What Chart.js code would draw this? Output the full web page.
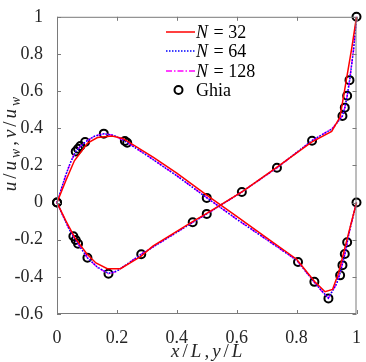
<!DOCTYPE html>
<html>
<head>
<meta charset="utf-8">
<script src="https://cdn.jsdelivr.net/npm/chart.js@4.4.1/dist/chart.umd.min.js"></script>
<style>
  html, body { margin: 0; padding: 0; background: #fff; }
  #wrap { width: 366px; height: 362px; }
</style>
</head>
<body>
<div id="wrap"><canvas id="c"></canvas></div>
<script>
// Ghia et al. reference points (Re = 1000)
const ghiaUy = [0, 0.0547, 0.0625, 0.0703, 0.1016, 0.1719, 0.2813, 0.4531, 0.5, 0.6172, 0.7344, 0.8516, 0.9531, 0.9609, 0.9688, 0.9766, 1];
const ghiaU  = [0, -0.181, -0.202, -0.222, -0.297, -0.383, -0.278, -0.106, -0.061, 0.057, 0.187, 0.333, 0.466, 0.511, 0.575, 0.659, 1];
const ghiaVx = [0, 0.0625, 0.0703, 0.0781, 0.0938, 0.1563, 0.2266, 0.2344, 0.5, 0.8047, 0.8594, 0.9063, 0.9453, 0.9531, 0.9609, 0.9688, 1];
const ghiaV  = [0, 0.275, 0.290, 0.304, 0.326, 0.371, 0.331, 0.322, 0.025, -0.320, -0.427, -0.516, -0.392, -0.337, -0.277, -0.214, 0];

// N = 32
const n32Uy = [0, 0.03, 0.06, 0.1, 0.13, 0.168, 0.212, 0.28, 0.32, 0.45, 0.5, 0.62, 0.73, 0.85, 0.917, 0.945, 0.984, 1];
const n32U  = [0, -0.10, -0.19, -0.277, -0.325, -0.356, -0.356, -0.29, -0.235, -0.105, -0.058, 0.06, 0.185, 0.325, 0.383, 0.46, 0.83, 1];
const n32Vx = [0, 0.03, 0.058, 0.102, 0.135, 0.184, 0.22, 0.322, 0.4, 0.5, 0.6, 0.7, 0.8, 0.86, 0.895, 0.92, 0.94, 0.967, 1];
const n32V  = [0, 0.12, 0.225, 0.32, 0.35, 0.358, 0.345, 0.243, 0.158, 0.04, -0.075, -0.19, -0.305, -0.425, -0.48, -0.468, -0.38, -0.206, 0];

// N = 64
const n64Uy = [0, 0.02, 0.04, 0.0547, 0.0703, 0.1016, 0.135, 0.172, 0.2, 0.2813, 0.4531, 0.5, 0.6172, 0.7344, 0.8516, 0.92, 0.953, 0.961, 0.969, 0.977, 0.99, 1];
const n64U  = [0, -0.072, -0.142, -0.182, -0.223, -0.297, -0.348, -0.381, -0.369, -0.279, -0.107, -0.061, 0.057, 0.188, 0.334, 0.398, 0.466, 0.511, 0.574, 0.658, 0.82, 1];
const n64Vx = [0, 0.015, 0.03, 0.045, 0.0625, 0.078, 0.094, 0.125, 0.156, 0.19, 0.227, 0.3, 0.4, 0.5, 0.6, 0.7, 0.8, 0.86, 0.88, 0.906, 0.934, 0.945, 0.961, 0.977, 1];
const n64V  = [0, 0.076, 0.152, 0.216, 0.274, 0.302, 0.325, 0.357, 0.370, 0.361, 0.331, 0.254, 0.144, 0.026, -0.089, -0.199, -0.31, -0.43, -0.468, -0.514, -0.436, -0.38, -0.277, -0.15, 0];

// N = 128
const n128Uy = [0, 0.02, 0.04, 0.0547, 0.0703, 0.1016, 0.135, 0.172, 0.2, 0.2813, 0.4531, 0.5, 0.6172, 0.7344, 0.8516, 0.92, 0.953, 0.961, 0.969, 0.977, 0.99, 1];
const n128U  = [0, -0.07, -0.14, -0.181, -0.222, -0.297, -0.35, -0.383, -0.37, -0.278, -0.106, -0.061, 0.057, 0.187, 0.333, 0.40, 0.466, 0.511, 0.575, 0.659, 0.82, 1];
const n128Vx = [0, 0.015, 0.03, 0.045, 0.0625, 0.078, 0.094, 0.125, 0.156, 0.19, 0.227, 0.3, 0.4, 0.5, 0.6, 0.7, 0.8, 0.86, 0.88, 0.906, 0.934, 0.945, 0.961, 0.977, 1];
const n128V  = [0, 0.075, 0.15, 0.215, 0.275, 0.303, 0.326, 0.358, 0.371, 0.362, 0.331, 0.255, 0.145, 0.026, -0.09, -0.2, -0.31, -0.43, -0.47, -0.515, -0.435, -0.38, -0.277, -0.15, 0];

const pts = (xs, ys) => xs.map((x, i) => ({ x, y: ys[i] }));

const SERIF = "'Liberation Serif', 'Times New Roman', Times, serif";
const COLORS = { n32: "#ff0000", n64: "#0000ff", n128: "#ff00ff", ghia: "#000000", axis: "#7a7a7a", tick: "#262626" };

function lineSet(label, data, color, dash) {
  return {
    label, data, borderColor: color, borderWidth: 1.5, borderDash: dash,
    pointRadius: 0, fill: false, tension: 0, clip: false,
  };
}
function ghiaSet(data) {
  return {
    label: "Ghia", data, showLine: false, borderColor: COLORS.ghia, backgroundColor: "rgba(0,0,0,0)",
    pointRadius: 4, pointBorderWidth: 2, pointBorderColor: COLORS.ghia, clip: false,
  };
}

// draws text made of pieces (italic / subscript), with a small gap like LaTeX spacing
function rich(ctx, segs, x, y, size, gap) {
  const font = (s) => (s.it ? "italic " : "") + (s.sub ? size * 0.72 : size) + "px " + SERIF;
  let w = 0;
  for (const s of segs) { ctx.font = font(s); w += ctx.measureText(s.t).width + gap; }
  w -= gap;
  let cx = x - w / 2;
  ctx.textAlign = "left";
  ctx.textBaseline = "alphabetic";
  for (const s of segs) {
    ctx.font = font(s);
    ctx.fillText(s.t, cx, y + (s.sub ? size * 0.22 : 0));
    cx += ctx.measureText(s.t).width + gap;
  }
}

const decor = {
  id: "decor",
  afterDraw(chart) {
    const { ctx, chartArea: a, scales } = chart;
    ctx.save();
    // box + inward ticks
    ctx.strokeStyle = COLORS.axis;
    ctx.lineWidth = 1;
    ctx.strokeRect(a.left + 0.5, a.top + 0.5, a.right - a.left - 1, a.bottom - a.top - 1);
    ctx.beginPath();
    for (const t of scales.x.ticks) {
      const px = Math.round(scales.x.getPixelForValue(t.value)) + 0.5;
      ctx.moveTo(px, a.bottom); ctx.lineTo(px, a.bottom - 4);
      ctx.moveTo(px, a.top); ctx.lineTo(px, a.top + 4);
    }
    for (const t of scales.y.ticks) {
      const py = Math.round(scales.y.getPixelForValue(t.value)) + 0.5;
      ctx.moveTo(a.left, py); ctx.lineTo(a.left + 4, py);
      ctx.moveTo(a.right, py); ctx.lineTo(a.right - 4, py);
    }
    ctx.stroke();

    // legend
    const items = [
      { color: COLORS.n32, dash: [], text: "32" },
      { color: COLORS.n64, dash: [1.5, 1.5], text: "64" },
      { color: COLORS.n128, dash: [6, 2, 1.5, 2], text: "128" },
    ];
    const rows = [32, 51, 71, 90];
    ctx.fillStyle = "#000";
    items.forEach((it, i) => {
      ctx.strokeStyle = it.color;
      ctx.lineWidth = 1.5;
      ctx.setLineDash(it.dash);
      ctx.beginPath();
      ctx.moveTo(166, rows[i]); ctx.lineTo(195, rows[i]);
      ctx.stroke();
      ctx.setLineDash([]);
      ctx.font = "italic 18px " + SERIF;
      ctx.textAlign = "left"; ctx.textBaseline = "middle";
      ctx.fillText("N", 196, rows[i] + 1);
      const nw = ctx.measureText("N").width;
      ctx.font = "18px " + SERIF;
      ctx.fillText(" = " + it.text, 197 + nw, rows[i] + 1);
    });
    ctx.strokeStyle = COLORS.ghia;
    ctx.lineWidth = 2;
    ctx.beginPath();
    ctx.arc(178.5, rows[3], 4, 0, Math.PI * 2);
    ctx.stroke();
    ctx.font = "18px " + SERIF;
    ctx.fillText("Ghia", 196, rows[3] + 1);

    // axis titles
    ctx.fillStyle = COLORS.tick;
    rich(ctx, [
      { t: "x", it: true }, { t: "/" }, { t: "L", it: true }, { t: "," },
      { t: "y", it: true }, { t: "/" }, { t: "L", it: true },
    ], (a.left + a.right) / 2, 357, 19, 3);
    ctx.save();
    ctx.translate(16, 144);
    ctx.rotate(-Math.PI / 2);
    rich(ctx, [
      { t: "u", it: true }, { t: "/" }, { t: "u", it: true }, { t: "w", it: true, sub: true }, { t: "," },
      { t: "v", it: true }, { t: "/" }, { t: "u", it: true }, { t: "w", it: true, sub: true },
    ], 0, 0, 19, 3);
    ctx.restore();
    ctx.restore();
  },
};

const fmt = (v) => String(Number(v.toFixed(1)));

new Chart(document.getElementById("c"), {
  type: "line",
  data: {
    datasets: [
      lineSet("N = 32", pts(n32Uy, n32U), COLORS.n32, []),
      lineSet("N = 32", pts(n32Vx, n32V), COLORS.n32, []),
      lineSet("N = 64", pts(n64Uy, n64U), COLORS.n64, [1.5, 1.5]),
      lineSet("N = 64", pts(n64Vx, n64V), COLORS.n64, [1.5, 1.5]),
      lineSet("N = 128", pts(n128Uy, n128U), COLORS.n128, [6, 2, 1.5, 2]),
      lineSet("N = 128", pts(n128Vx, n128V), COLORS.n128, [6, 2, 1.5, 2]),
      ghiaSet(pts(ghiaUy, ghiaU)),
      ghiaSet(pts(ghiaVx, ghiaV)),
    ],
  },
  options: {
    responsive: true, maintainAspectRatio: false, animation: false,
    layout: { padding: { top: 12, right: 6, left: 0, bottom: 0 } },
    scales: {
      x: {
        type: "linear", min: 0, max: 1,
        ticks: { stepSize: 0.2, color: COLORS.tick, font: { family: SERIF, size: 18 }, padding: 5, callback: fmt, maxRotation: 0 },
        grid: { display: false },
        border: { display: false },
        afterFit: (s) => { s.height = 48; },
      },
      y: {
        type: "linear", min: -0.6, max: 1,
        ticks: { stepSize: 0.2, color: COLORS.tick, font: { family: SERIF, size: 18 }, padding: 6, callback: fmt },
        grid: { display: false },
        border: { display: false },
        afterFit: (s) => { s.width = 57; },
      },
    },
    plugins: { legend: { display: false }, tooltip: { enabled: false } },
  },
  plugins: [decor],
});
</script>
</body>
</html>
